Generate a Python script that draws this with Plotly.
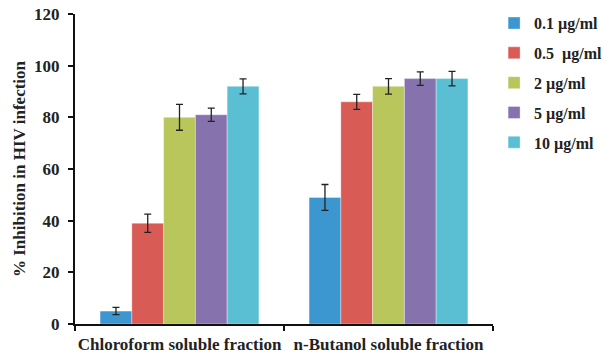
import plotly.graph_objects as go

categories = ["Chloroform soluble fraction", "n-Butanol soluble fraction"]
series_names = ["0.1 µg/ml", "0.5  µg/ml", "2 µg/ml", "5 µg/ml", "10 µg/ml"]
values = [
    [5, 49],
    [39, 86],
    [80, 92],
    [81, 95],
    [92, 95],
]
errors = [
    [1.4, 5.0],
    [3.5, 2.9],
    [5.0, 3.0],
    [2.6, 2.6],
    [2.9, 2.8],
]
colors = ["#3C96CF", "#D95B55", "#B8C65C", "#8673AE", "#5ABFD3"]

FONT = "Liberation Serif"

fig = go.Figure()
for name, vals, errs, col in zip(series_names, values, errors, colors):
    fig.add_trace(go.Bar(
        x=categories, y=vals, name="<b>" + name.replace("  ", "&nbsp; ") + "</b>",
        legendgroup=name,
        marker=dict(color=col, line=dict(width=0.6, color="rgba(255,255,255,0.6)")),
        error_y=dict(type="data", array=errs, visible=True, color="#222222",
                     thickness=1.3, width=3.5),
    ))

fig.update_layout(
    width=610, height=362,
    margin=dict(l=75, r=117, t=14, b=38, autoexpand=False),
    paper_bgcolor="white", plot_bgcolor="white",
    barmode="group", bargap=0.24, bargroupgap=0,
    font=dict(family=FONT, size=16, color="#222222"),
    legend=dict(xref="container", x=0.81, xanchor="left",
                yref="container", y=0.983, yanchor="top",
                font=dict(family=FONT, size=16, color="#222222"),
                tracegroupgap=6, itemwidth=30, bgcolor="rgba(0,0,0,0)"),
    showlegend=True,
)
fig.update_xaxes(
    showline=True, linecolor="#111111", linewidth=2,
    ticks="outside", tickson="boundaries", ticklen=5, tickwidth=2, tickcolor="#111111",
    tickfont=dict(family=FONT, size=17, color="#222222"),
    tickprefix="<b>", ticksuffix="</b>", ticklabelstandoff=4,
    tickangle=0, automargin=False,
    showgrid=False,
)
fig.update_yaxes(
    range=[0, 120], dtick=20,
    showline=True, linecolor="#111111", linewidth=2,
    ticks="outside", ticklen=5, tickwidth=2, tickcolor="#111111",
    tickfont=dict(family=FONT, size=17, color="#222222"),
    tickprefix="<b>", ticksuffix="</b>", ticklabelstandoff=5,
    showgrid=False, zeroline=False, automargin=False,
    title=dict(text="<b>% Inhibition in HIV infection</b>", font=dict(family=FONT, size=17, color="#222222"), standoff=4),
)

fig.write_html("out.html")
